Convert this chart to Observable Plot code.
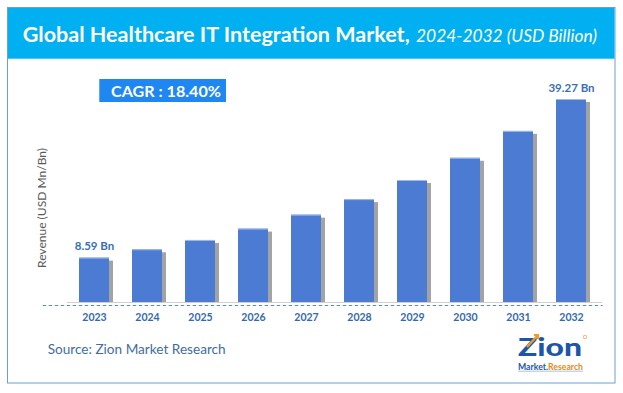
<!DOCTYPE html>
<html><head><meta charset="utf-8">
<script src="https://cdn.jsdelivr.net/npm/d3@7"></script>
<script src="https://cdn.jsdelivr.net/npm/@observablehq/plot@0.6"></script>
<style>
html,body{margin:0;padding:0;background:#fff;}
#wrap{position:relative;width:623px;height:393px;overflow:hidden;font-family:Lato,sans-serif;}
#bg{position:absolute;left:0;top:0;}
#chart{position:absolute;left:0;top:62px;}
text{font-family:Lato,sans-serif;}
</style></head><body>
<div id="wrap">
<svg id="bg" width="623" height="393">
  <rect x="7.5" y="7.5" width="607.5" height="375.5" fill="#fff" stroke="#6d9fd3"/>
  <rect x="8" y="8" width="606.5" height="50.7" fill="#00b0f0"/>
  <text x="22.7" y="41.7" font-size="21" font-weight="bold" fill="#fff" textLength="387" lengthAdjust="spacingAndGlyphs">Global Healthcare IT Integration Market,</text>
  <text x="416" y="41.7" font-size="16.5" font-style="italic" fill="#fff" textLength="181" lengthAdjust="spacingAndGlyphs">2024-2032 (USD Billion)</text>
  <rect x="99.3" y="79" width="126.7" height="23" fill="#1f87f2"/>
  <text x="111" y="96.7" font-size="15" font-weight="bold" fill="#fff" textLength="110" lengthAdjust="spacingAndGlyphs">CAGR :  18.40%</text>
  <text transform="translate(45.5,208) rotate(-90)" text-anchor="middle" font-size="12" fill="#595959" textLength="120" lengthAdjust="spacingAndGlyphs">Revenue (USD Mn/Bn)</text>
  <text x="47.7" y="354.3" font-size="14" fill="#3f6d9f" textLength="178" lengthAdjust="spacingAndGlyphs">Source: Zion Market Research</text>
  <text x="518" y="355.5" font-size="25" font-weight="900" fill="#1c56a8" textLength="64" lengthAdjust="spacingAndGlyphs">Zion</text>
  <path d="M527 347 L538 335 M534 335 L538 335 L538 339" stroke="#f39c1f" stroke-width="2.2" fill="none"/>
  <circle cx="585" cy="337" r="1.8" fill="none" stroke="#e8891c" stroke-width="0.6"/>
  <text x="518" y="369.5" font-size="8.5" font-weight="bold" textLength="65" lengthAdjust="spacingAndGlyphs"><tspan fill="#1c56a8">Market.</tspan><tspan fill="#e8891c">Research</tspan></text>
  <line x1="518" y1="371.2" x2="583" y2="371.2" stroke="#a9c4e6" stroke-width="1"/>
</svg>
<div id="chart"></div>
</div>
<script>
const years = ["2023","2024","2025","2026","2027","2028","2029","2030","2031","2032"];
const revenue = [8.59, 10.2, 12.0, 14.2, 16.9, 19.9, 23.6, 27.9, 33.1, 39.27];
const labelYears = ["2023","2032"];
const labelTexts = ["8.59 Bn","39.27 Bn"];

const data = years.map((y,i)=>({year:y, value:revenue[i]}));
const labels = labelYears.map((y,i)=>({year:y, value:revenue[years.indexOf(y)], text:labelTexts[i]}));

const plot = Plot.plot({
  width:623, height:270,
  marginLeft:55.7, marginRight:12.4, marginTop:0, marginBottom:30,
  style:{background:"transparent", fontFamily:"Lato, sans-serif", fontSize:"10.5px", overflow:"visible"},
  x:{type:"band", domain:years, padding:0.427, label:null, tickSize:0, tickPadding:11},
  y:{domain:[0,39.27], range:[240,37], axis:null},
  marks:[
    Plot.ruleY([0],{stroke:"#5b8bd6", strokeDasharray:"3.5,2.5", dy:3, insetLeft:-13, insetRight:8}),
    Plot.barY(data,{x:"year", y:"value", fill:"#666", fillOpacity:0.6, dx:4, insetTop:3, ariaLabel:"shadow"}),
    Plot.ruleY([0],{stroke:"#d0d0d0", insetLeft:11.3, insetRight:8.6}),
    Plot.barY(data,{x:"year", y:"value", fill:"#4b7bd3"}),
    Plot.tickY(data,{x:"year", y:"value", stroke:"#9fb9ea"}),
    Plot.text(labels,{x:"year", y:"value", text:"text", dy:-8, lineAnchor:"bottom", fill:"#3a6fb5", fontWeight:"bold", fontSize:11.5})
  ]
});
document.getElementById("chart").appendChild(plot);
const s = d3.select(plot);
const defs = s.insert("defs", ":first-child");
defs.append("filter").attr("id","shblur").attr("x","-50%").attr("y","-10%").attr("width","200%").attr("height","120%")
  .append("feGaussianBlur").attr("stdDeviation", 2);
s.select('g[aria-label="shadow"]').attr("filter","url(#shblur)");
s.selectAll('g[aria-label^="x-axis"] text').attr("font-weight","bold").attr("fill","#3468b0");
</script>
</body></html>
